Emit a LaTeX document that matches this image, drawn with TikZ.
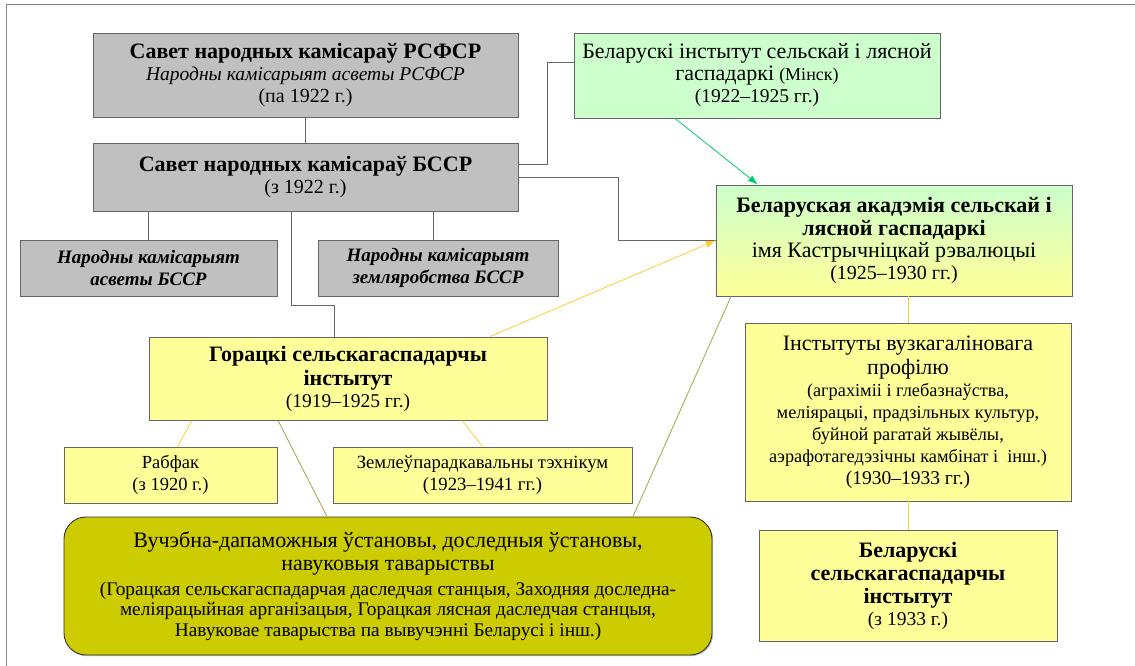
\documentclass[tikz,border=0pt]{standalone}
\usepackage{fontspec}
\setmainfont{Liberation Serif}
\usetikzlibrary{arrows.meta,shadows}

\definecolor{boxgray}{HTML}{C0C0C0}
\definecolor{boxyellow}{HTML}{FFFF99}
\definecolor{boxgreen}{HTML}{CCFFCC}
\definecolor{boxolive}{HTML}{CCCC00}
\definecolor{linegray}{HTML}{666666}
\definecolor{lineyellow}{HTML}{FFCC33}
\definecolor{lineolive}{HTML}{A3A345}
\definecolor{arrowgreen}{HTML}{00CC66}

\newcommand{\titlesize}{\fontsize{22}{22}\selectfont}
\newcommand{\datesize}{\fontsize{19.5}{22}\selectfont}
\newcommand{\notesize}{\fontsize{18.3}{21.5}\selectfont}

\tikzset{
    box/.style={draw=linegray, line width=0.9pt, align=center, inner sep=2pt,
        drop shadow={shadow xshift=1.2pt, shadow yshift=-1.2pt, fill=black, opacity=0.25}},
    graybox/.style={box, fill=boxgray},
    yellowbox/.style={box, fill=boxyellow},
    greenbox/.style={box, fill=boxgreen},
    link/.style={draw=linegray, line width=0.9pt},
    yellowlink/.style={draw=lineyellow, line width=0.8pt},
    olivelink/.style={draw=lineolive, line width=0.8pt},
}

\begin{document}
\begin{tikzpicture}[x=1pt, y={(0pt,-1pt)}, font=\fontsize{20}{22}\selectfont]
    \useasboundingbox (0,0) rectangle (1135,666);
    \draw[linegray!80, line width=1pt] (6,666) -- (6,5) -- (1135,5);

    \node[graybox, minimum width=425pt, minimum height=84pt] (sovR) at (305.5,75) {{\titlesize\bfseries Савет народных камісараў РСФСР}\\{\fontsize{19.5}{22}\selectfont\itshape Народны камісарыят асветы РСФСР}\\(па 1922 г.)};
    \node[graybox, minimum width=425pt, minimum height=68pt] (sovB) at (305.5,177) {{\titlesize\bfseries Савет народных камісараў БССР}\\(з 1922 г.)};
    \node[graybox, minimum width=257pt, minimum height=56pt, font=\fontsize{19}{22}\selectfont\bfseries\itshape] (narA) at (148.5,268) {Народны камісарыят\\асветы БССР};
    \node[graybox, minimum width=240pt, minimum height=56pt, font=\fontsize{19}{22}\selectfont\bfseries\itshape] (narZ) at (438,268) {Народны камісарыят\\земляробства БССР};
    \node[yellowbox, minimum width=398pt, minimum height=83pt] (gork) at (348,378.5) {{\titlesize\bfseries Горацкі сельскагаспадарчы}\\[2pt]{\titlesize\bfseries інстытут}\\{\datesize (1919–1925 гг.)}};
    \node[yellowbox, minimum width=213pt, minimum height=56pt, font=\fontsize{18.5}{22}\selectfont] (rabf) at (170.5,475) {Рабфак\\(з 1920 г.)};
    \node[yellowbox, minimum width=299pt, minimum height=56pt, font=\fontsize{18.7}{22}\selectfont] (zeml) at (482.5,475) {Землеўпарадкавальны тэхнікум\\(1923–1941 гг.)};
    \node[box, fill=boxolive, draw=black!80, rounded corners=22pt, minimum width=648pt, minimum height=138pt, font=\fontsize{19.3}{20.5}\selectfont] (vuch) at (388,586) {{\titlesize Вучэбна-дапаможныя ўстановы, доследныя ўстановы,}\\[2.5pt]{\titlesize навуковыя таварыствы}\\[4.5pt](Горацкая сельскагаспадарчая даследчая станцыя, Заходняя доследна-\\меліярацыйная арганізацыя, Горацкая лясная даследчая станцыя,\\Навуковае таварыства па вывучэнні Беларусі і інш.)};
    \node[greenbox, minimum width=366pt, minimum height=85pt] (belI) at (757,75.5) {{\titlesize Беларускі інстытут сельскай і лясной}\\{\titlesize гаспадаркі} {\fontsize{18}{22}\selectfont (Мінск)}\\{\datesize (1922–1925 гг.)}};
    \node[box, top color=boxgreen, bottom color=boxyellow, minimum width=356pt, minimum height=111pt] (akad) at (894,240.5) {{\titlesize\bfseries Беларуская акадэмія сельскай і}\\[1pt]{\titlesize\bfseries лясной гаспадаркі}\\{\titlesize імя Кастрычніцкай рэвалюцыі}\\(1925–1930 гг.)};
    \node[yellowbox, minimum width=326pt, minimum height=178pt] (inst) at (908,412) {{\titlesize Інстытуты вузкагаліновага}\\[2pt]{\titlesize профілю}\\{\notesize (аграхіміі і глебазнаўства,}\\{\notesize меліярацыі, прадзільных культур,}\\{\notesize буйной рагатай жывёлы,}\\{\notesize аэрафотагедэзічны камбінат і\ \ інш.)}\\{\datesize (1930–1933 гг.)}};
    \node[yellowbox, minimum width=298pt, minimum height=111pt] (belS) at (908,585.5) {{\titlesize\bfseries Беларускі}\\[1pt]{\titlesize\bfseries сельскагаспадарчы}\\[1pt]{\titlesize\bfseries інстытут}\\{\datesize (з 1933 г.)}};

    % subordination
    \draw[link] (sovR) -- (sovB);
    \draw[link] ([yshift=13pt]sovB.east) -- ++(29,0) |- ([yshift=13.5pt]belI.west);
    \draw[link] (sovB.east) -- ++(100,0) |- (akad.west);
    \draw[link] (sovB.south -| narA.north) -- (narA.north);
    \draw[link] ([xshift=-5pt]sovB.south -| narZ.north) -- ([xshift=-5pt]narZ.north);
    \draw[link] ([xshift=-14.5pt]sovB.south) -- ++(0,94) -| ([xshift=-14pt]gork.north);

    % succession
    \draw[arrowgreen, line width=0.8pt, -{Latex[length=10pt, width=7pt]}] ([xshift=-82pt]belI.south) -- ([xshift=-136pt]akad.north);
    \draw[lineyellow, line width=0.8pt, -{Latex[length=10pt, width=7pt]}] ([xshift=142pt]gork.north) -- (akad.west);

    \draw[yellowlink] ([xshift=-156pt]gork.south) -- ([xshift=7pt]rabf.north);
    \draw[yellowlink] ([xshift=114pt]gork.south) -- (zeml.north);
    \draw[olivelink] ([xshift=-70pt]gork.south) -- ([xshift=-61pt]vuch.north);
    \draw[olivelink] ([xshift=-163pt]akad.south) -- ([xshift=245pt]vuch.north);
    \draw[yellowlink] (inst.north |- akad.south) -- (inst.north);
    \draw[yellowlink] (inst) -- (belS);
\end{tikzpicture}
\end{document}
